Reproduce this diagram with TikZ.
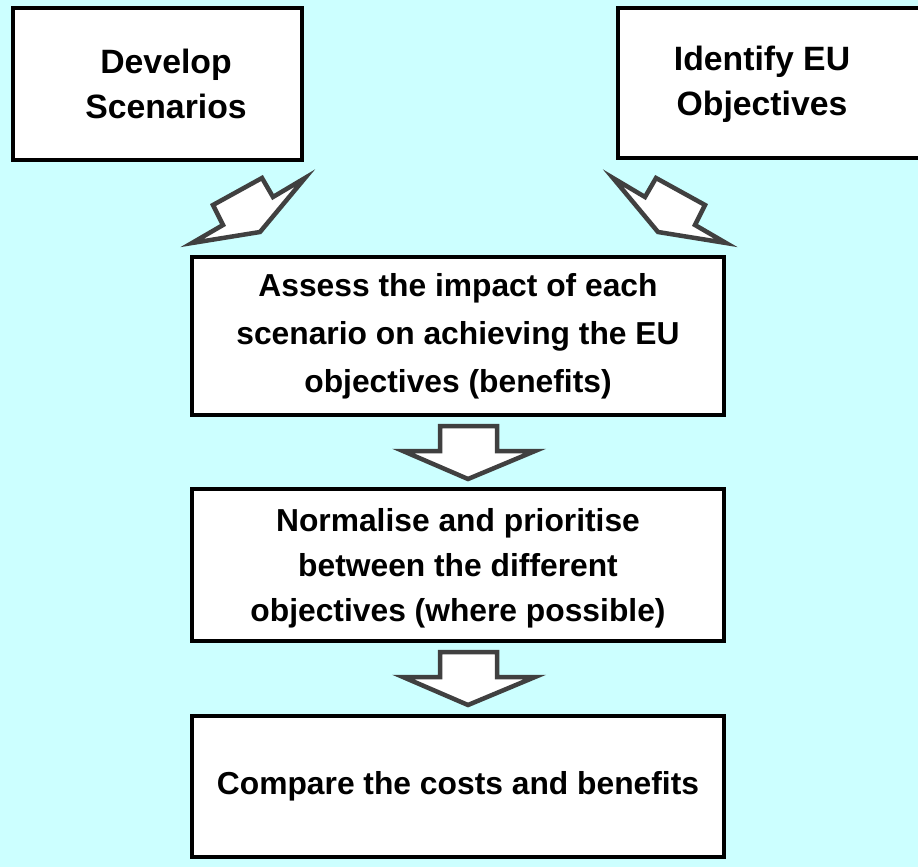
\documentclass[tikz,border=0pt]{standalone}
\usepackage{fontspec}
\setmainfont{Liberation Sans}
\definecolor{skycyan}{HTML}{CCFFFF}
\definecolor{arrowgrey}{HTML}{404040}

\begin{document}
\begin{tikzpicture}[x=0.025cm,y=-0.025cm,
  box/.style={draw=black,line width=3.2pt,fill=white},
  txt/.style={font=\bfseries\fontsize{22.6}{32}\selectfont,align=center,inner sep=0pt},
  fatarrow/.style={draw=arrowgrey,line width=3.2pt,fill=white,line join=miter}]
\fill[skycyan] (0,0) rectangle (918,867);
\useasboundingbox (0,0) rectangle (918,867);
%\draw[step=50,gray,very thin] (0,0) grid (918,867); %background grid
\draw[box] (13,8) rectangle (302,160);
\draw[box] (618,8) rectangle (921,158);
\node[txt,font=\bfseries\fontsize{24}{32}\selectfont] (scen) at (166,84) {Develop\\Scenarios};
\node[txt,font=\bfseries\fontsize{24}{32}\selectfont] (obj) at (762,84) {Identify EU\\Objectives};
\draw[fatarrow] (213,205) -- (262,178) -- (273,197) -- (305,178) -- (260,232) -- (192,243) -- (223,225) -- cycle;
\draw[fatarrow] (705,205) -- (656,178) -- (645,197) -- (613,178) -- (658,232) -- (726,243) -- (695,225) -- cycle;
\draw[box] (192,257) rectangle (724,415);
\node[txt,font=\bfseries\fontsize{22.6}{34}\selectfont] (impact) at (458,336) {Assess the impact of each\\scenario on achieving the EU\\objectives (benefits)};
\draw[fatarrow] (440,426) -- (497,426) -- (497,451) -- (535,451) -- (468,479) -- (403,451) -- (440,451) -- cycle;
\draw[box] (192,489) rectangle (724,641);
\node[txt] (prio) at (458,568) {Normalise and prioritise\\between the different\\objectives (where possible)};
\draw[fatarrow] (440,652) -- (497,652) -- (497,677) -- (535,677) -- (468,705) -- (403,677) -- (440,677) -- cycle;
\draw[box] (192,716) rectangle (724,857);
\node[txt] (cost) at (458,786) {Compare the costs and benefits};
\end{tikzpicture}
\end{document}
